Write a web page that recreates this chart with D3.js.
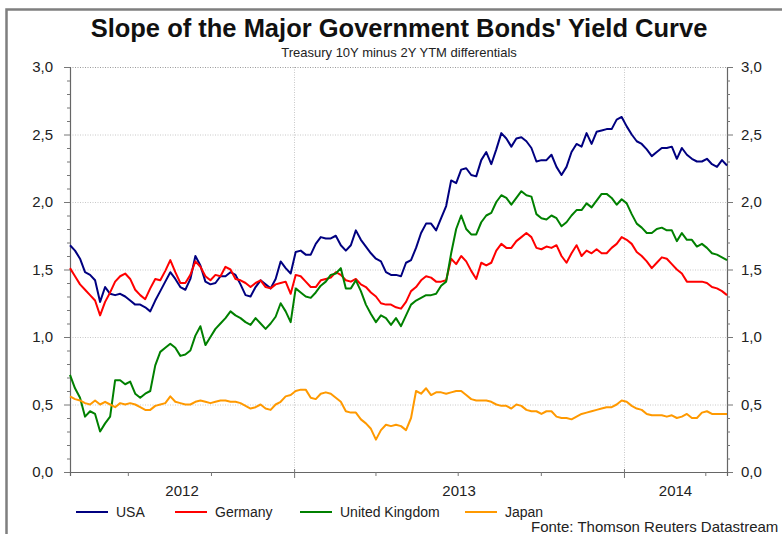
<!DOCTYPE html>
<html>
<head>
<meta charset="utf-8">
<script src="https://cdn.jsdelivr.net/npm/d3@7"></script>
<style>
  body { margin: 0; background: #fff; }
  svg { display: block; font-family: "Liberation Sans", Arial, sans-serif; }
</style>
</head>
<body>
<script>
// chart box
const SCREEN = {
    width: 782,
    height: 534,
    left: 70,
    right: 727,
    top: 67,
    bottom: 472
};

// sampled roughly every 5.5 days between the first and last date
const START_DATE = new Date(2012, 3, 28);
const END_DATE = new Date(2014, 3, 25);

const usaValues = [
    1.68,1.64,1.58,1.48,1.46,1.42,1.26,1.37,1.32,1.31,1.32,1.30,1.27,1.24,1.24,1.22,1.19,1.27,1.34,1.41,1.48,1.43,1.37,1.35,1.43,1.60,1.53,1.41,1.39,1.40,1.45,1.45,1.48,
    1.46,1.39,1.31,1.30,1.37,1.42,1.39,1.36,1.43,1.56,1.51,1.47,1.63,1.64,1.61,1.61,1.69,1.74,1.73,1.73,1.75,1.68,1.64,1.68,1.79,1.72,1.67,1.62,1.58,1.56,1.48,1.46,1.46,
    1.45,1.55,1.57,1.66,1.77,1.84,1.84,1.79,1.88,1.97,2.16,2.14,2.24,2.25,2.20,2.19,2.31,2.37,2.28,2.39,2.51,2.47,2.41,2.47,2.48,2.45,2.40,2.30,2.31,2.31,2.35,2.26,2.20,
    2.26,2.37,2.43,2.41,2.51,2.43,2.52,2.53,2.54,2.54,2.61,2.63,2.56,2.50,2.45,2.43,2.39,2.34,2.37,2.40,2.40,2.41,2.32,2.40,2.35,2.32,2.30,2.30,2.32,2.28,2.26,2.31,2.27
];
const germanyValues = [
    1.51,1.45,1.39,1.35,1.31,1.27,1.16,1.26,1.33,1.41,1.45,1.47,1.43,1.35,1.31,1.28,1.36,1.43,1.42,1.49,1.57,1.48,1.40,1.40,1.46,1.56,1.52,1.45,1.42,1.46,1.45,1.52,1.50,
    1.43,1.42,1.40,1.37,1.40,1.42,1.37,1.36,1.39,1.40,1.41,1.32,1.46,1.45,1.41,1.37,1.37,1.42,1.43,1.44,1.48,1.46,1.42,1.41,1.43,1.39,1.37,1.33,1.30,1.25,1.24,1.24,1.22,
    1.21,1.26,1.34,1.37,1.42,1.45,1.44,1.41,1.41,1.42,1.58,1.54,1.60,1.56,1.49,1.43,1.55,1.53,1.55,1.64,1.69,1.66,1.66,1.71,1.74,1.77,1.74,1.66,1.65,1.67,1.66,1.68,1.60,
    1.55,1.62,1.68,1.60,1.64,1.62,1.65,1.62,1.62,1.66,1.69,1.74,1.72,1.69,1.63,1.60,1.56,1.51,1.55,1.59,1.58,1.54,1.50,1.47,1.41,1.41,1.41,1.41,1.40,1.37,1.36,1.34,1.31
];
const ukValues = [
    0.72,0.62,0.55,0.41,0.45,0.43,0.30,0.36,0.41,0.68,0.68,0.65,0.67,0.58,0.55,0.58,0.60,0.79,0.89,0.92,0.95,0.92,0.86,0.87,0.90,1.01,1.08,0.94,1.00,1.06,1.10,1.14,1.19,
    1.16,1.14,1.11,1.09,1.14,1.10,1.06,1.10,1.15,1.25,1.19,1.11,1.36,1.33,1.30,1.29,1.33,1.38,1.41,1.46,1.47,1.51,1.36,1.36,1.42,1.34,1.24,1.17,1.11,1.16,1.14,1.09,1.14,
    1.08,1.16,1.24,1.27,1.29,1.31,1.31,1.32,1.38,1.41,1.62,1.80,1.90,1.80,1.76,1.76,1.85,1.90,1.92,2.00,2.05,2.03,1.98,2.03,2.08,2.05,2.04,1.91,1.88,1.87,1.90,1.88,1.82,
    1.85,1.90,1.94,1.94,1.99,1.96,2.01,2.06,2.06,2.03,1.98,2.02,1.99,1.91,1.84,1.81,1.77,1.77,1.80,1.81,1.79,1.79,1.71,1.77,1.72,1.72,1.67,1.69,1.66,1.62,1.61,1.59,1.57
];
const japanValues = [
    0.56,0.54,0.53,0.51,0.50,0.53,0.50,0.52,0.50,0.48,0.51,0.50,0.51,0.50,0.48,0.46,0.46,0.49,0.50,0.51,0.56,0.52,0.51,0.50,0.50,0.52,0.53,0.52,0.51,0.52,0.53,0.53,0.52,
    0.52,0.51,0.49,0.47,0.48,0.50,0.47,0.46,0.50,0.52,0.56,0.57,0.60,0.61,0.61,0.55,0.54,0.58,0.59,0.58,0.55,0.52,0.45,0.44,0.44,0.39,0.36,0.32,0.24,0.31,0.35,0.34,0.35,
    0.34,0.31,0.40,0.60,0.58,0.62,0.57,0.59,0.59,0.58,0.59,0.60,0.60,0.57,0.54,0.53,0.53,0.53,0.52,0.50,0.49,0.49,0.47,0.50,0.49,0.46,0.45,0.45,0.43,0.45,0.45,0.41,0.40,
    0.40,0.39,0.41,0.43,0.44,0.45,0.46,0.47,0.48,0.48,0.50,0.53,0.52,0.49,0.47,0.46,0.43,0.42,0.42,0.42,0.41,0.42,0.40,0.41,0.43,0.40,0.40,0.44,0.45,0.43,0.43,0.43,0.43
];

const seriesNames = ["USA", "Germany", "United Kingdom", "Japan"];
const seriesColors = ["#000080", "#ff0000", "#008000", "#ff9900"];
const yTickLabels = ["0,0", "0,5", "1,0", "1,5", "2,0", "2,5", "3,0"];
const yearLabels = ["2012", "2013", "2014"];

const step = (END_DATE - START_DATE) / (usaValues.length - 1);
const dates = usaValues.map((d, i) => new Date(+START_DATE + i * step));
const allSeries = [usaValues, germanyValues, ukValues, japanValues];

const svg = d3.select("body").append("svg")
    .attr("width", SCREEN.width)
    .attr("height", SCREEN.height);

const x = d3.scaleTime().domain([START_DATE, END_DATE]).range([SCREEN.left, SCREEN.right]);
const y = d3.scaleLinear().domain([0, 3]).range([SCREEN.bottom, SCREEN.top]);

// outer frame
svg.append("path")
    .attr("d", `M6.5,${SCREEN.height} V9.5 H${SCREEN.width}`)
    .attr("fill", "none")
    .attr("stroke", "#7f7f7f")
    .attr("stroke-width", 2.5);

// titles
svg.append("text")
    .attr("x", 399).attr("y", 37)
    .attr("text-anchor", "middle")
    .attr("font-size", 25.5).attr("font-weight", "bold")
    .attr("fill", "#111")
    .text("Slope of the Major Government Bonds' Yield Curve");
svg.append("text")
    .attr("x", 399).attr("y", 57)
    .attr("text-anchor", "middle")
    .attr("font-size", 13)
    .attr("fill", "#222")
    .text("Treasury 10Y minus 2Y YTM differentials");

// grid
const majorY = d3.range(0.5, 3.01, 0.5);
svg.append("g")
    .selectAll("line")
    .data(majorY)
    .join("line")
        .attr("x1", SCREEN.left).attr("x2", SCREEN.right)
        .attr("y1", d => y(d) + 0.5).attr("y2", d => y(d) + 0.5)
        .attr("stroke", d => d === 3 ? "#9a9a9a" : "#c8c8c8")
        .attr("stroke-width", 1)
        .attr("stroke-dasharray", "1,1.5");

const yearStarts = [new Date(2013, 0, 1), new Date(2014, 0, 1)];
svg.append("g")
    .selectAll("line")
    .data(yearStarts)
    .join("line")
        .attr("x1", d => Math.round(x(d)) + 0.5).attr("x2", d => Math.round(x(d)) + 0.5)
        .attr("y1", SCREEN.top).attr("y2", SCREEN.bottom)
        .attr("stroke", "#c8c8c8")
        .attr("stroke-dasharray", "1,1.5");

// y axes (left and right), ticks every 0.1, longer at 0.5
const leftAxis = d3.axisLeft(y)
    .tickValues(d3.range(0, 3.001, 0.1))
    .tickSize(3)
    .tickFormat("");
const rightAxis = d3.axisRight(y)
    .tickValues(d3.range(0, 3.001, 0.1))
    .tickSize(3)
    .tickFormat("");

function styleAxis(g) {
    g.select(".domain").attr("stroke", "#666").attr("stroke-width", 1.2);
    g.selectAll(".tick line").attr("stroke", "#777");
}

svg.append("g")
    .attr("transform", `translate(${SCREEN.left},0)`)
    .call(leftAxis)
    .call(styleAxis)
    .call(g => g.selectAll(".tick line").filter(d => Math.abs(d * 2 - Math.round(d * 2)) < 1e-6).attr("x2", -6));
svg.append("g")
    .attr("transform", `translate(${SCREEN.right},0)`)
    .call(rightAxis)
    .call(styleAxis)
    .call(g => g.selectAll(".tick line").filter(d => Math.abs(d * 2 - Math.round(d * 2)) < 1e-6).attr("x2", 6));

// y tick labels
const labelGroup = svg.append("g").attr("font-size", 15).attr("fill", "#222");
labelGroup.selectAll("text.left")
    .data(yTickLabels)
    .join("text")
        .attr("class", "left")
        .attr("x", 53)
        .attr("y", (d, i) => y(i * 0.5))
        .attr("dy", "0.36em")
        .attr("text-anchor", "end")
        .text(d => d);
labelGroup.selectAll("text.right")
    .data(yTickLabels)
    .join("text")
        .attr("class", "right")
        .attr("x", 741)
        .attr("y", (d, i) => y(i * 0.5))
        .attr("dy", "0.36em")
        .text(d => d);

// x axis: quarterly ticks, longer at year starts
const xAxis = d3.axisBottom(x)
    .tickValues(d3.timeMonth.every(3).range(START_DATE, END_DATE))
    .tickSize(4)
    .tickFormat("");
svg.append("g")
    .attr("transform", `translate(0,${SCREEN.bottom})`)
    .call(xAxis)
    .call(styleAxis)
    .call(g => g.selectAll(".tick line")
        .filter(d => d.getMonth() === 0)
        .attr("y1", -3).attr("y2", 6));

// year labels centred on each visible year
const yearSpans = [
    [START_DATE, yearStarts[0]],
    [yearStarts[0], yearStarts[1]],
    [yearStarts[1], END_DATE]
];
labelGroup.selectAll("text.year")
    .data(yearLabels)
    .join("text")
        .attr("class", "year")
        .attr("x", (d, i) => (x(yearSpans[i][0]) + x(yearSpans[i][1])) / 2)
        .attr("y", 496)
        .attr("text-anchor", "middle")
        .text(d => d);

// series lines
const line = d3.line()
    .x((d, i) => x(dates[i]))
    .y(d => y(d));

svg.append("g")
    .selectAll("path")
    .data(allSeries)
    .join("path")
        .attr("d", line)
        .attr("fill", "none")
        .attr("stroke", (d, i) => seriesColors[i])
        .attr("stroke-width", 2)
        .attr("stroke-linejoin", "round");

// legend
const legendX = [76, 175, 300, 465];
const legend = svg.append("g")
    .selectAll("g")
    .data(seriesNames)
    .join("g")
        .attr("transform", (d, i) => `translate(${legendX[i]},512)`);
legend.append("line")
    .attr("x1", 0).attr("x2", 32)
    .attr("stroke", (d, i) => seriesColors[i])
    .attr("stroke-width", 2);
legend.append("text")
    .attr("x", 40)
    .attr("dy", "0.36em")
    .attr("font-size", 14)
    .attr("fill", "#222")
    .text(d => d);

svg.append("text")
    .attr("x", 531).attr("y", 532)
    .attr("font-size", 15)
    .attr("fill", "#222")
    .text("Fonte: Thomson Reuters Datastream");
</script>
</body>
</html>
